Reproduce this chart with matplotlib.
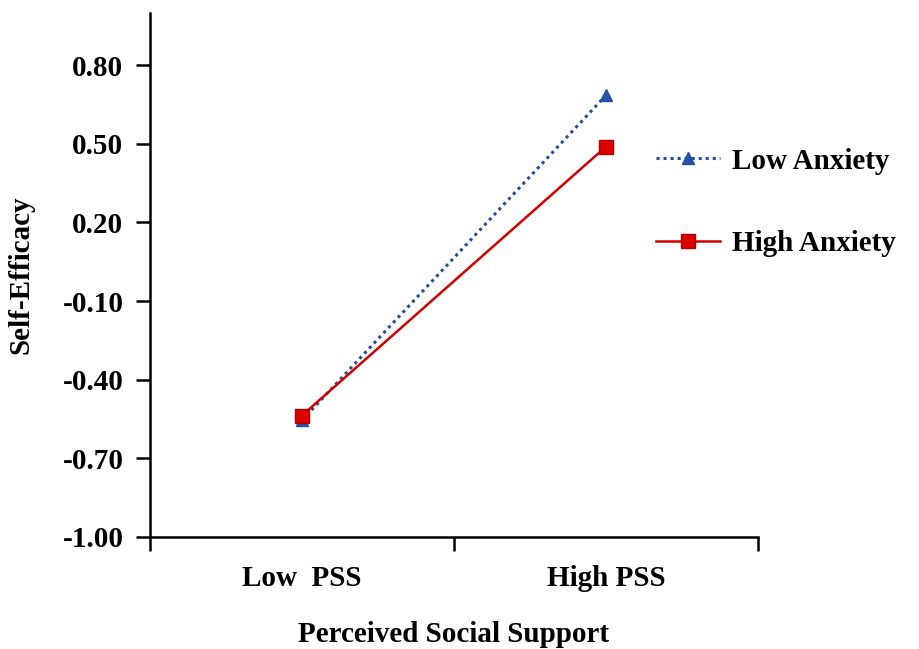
import matplotlib
matplotlib.use("Agg")
import matplotlib.pyplot as plt
import numpy as np

categories = ["Low  PSS", "High PSS"]
low_anxiety = [-0.555, 0.685]
high_anxiety = [-0.537, 0.489]
yticks = [-1.00, -0.70, -0.40, -0.10, 0.20, 0.50, 0.80]

plt.rcParams['font.family'] = ['Liberation Serif', 'DejaVu Serif']
plt.rcParams['font.weight'] = 'bold'

FS = 21

fig = plt.figure(figsize=(9.19, 6.49), dpi=100)
ax = fig.add_axes([0.163, 0.1726, 0.662, 0.808])

x = np.array([0.5, 1.5])
ax.plot(x, low_anxiety, linestyle=(0, (1, 1.3)), color='#1F4E9E', linewidth=2.2,
        marker='^', markersize=9, markerfacecolor='#2455A8', markeredgecolor='#1F4E9E',
        label='Low Anxiety', zorder=3)
ax.plot(x, high_anxiety, linestyle='-', color='#D40000', linewidth=1.8,
        marker='s', markersize=10, markerfacecolor='#DD0000', markeredgecolor='#B00000',
        label='High Anxiety', zorder=4)

ax.set_xlim(0, 2)
ax.set_ylim(-1.0, 1.0)
ax.set_xticks([0, 1, 2])
ax.set_xticklabels([])
ax.set_xticks(x, minor=True)
ax.set_xticklabels(categories, minor=True, fontsize=FS, fontweight='bold')
ax.tick_params(axis='x', which='minor', length=0, pad=20)
ax.tick_params(axis='x', which='major', length=10, width=1.8, direction='out')
ax.set_yticks(yticks)
ax.set_yticklabels([f"{v:.2f}" for v in yticks], fontsize=FS, fontweight='bold')
ax.tick_params(axis='y', length=10, width=1.8, direction='out', pad=9)

for s in ['top', 'right']:
    ax.spines[s].set_visible(False)
for s in ['left', 'bottom']:
    ax.spines[s].set_linewidth(1.8)

ax.set_xlabel("Perceived Social Support", fontsize=FS, fontweight='bold', labelpad=21)
ax.set_ylabel("Self-Efficacy", fontsize=FS, fontweight='bold', labelpad=20)

leg = fig.legend(loc='upper left', bbox_to_anchor=(0.685, 0.813), frameon=False,
                 prop={'family': 'Liberation Serif', 'weight': 'bold', 'size': FS},
                 labelspacing=1.9, handlelength=2.2, handletextpad=0.4)

fig.savefig("out.png", dpi=100)
